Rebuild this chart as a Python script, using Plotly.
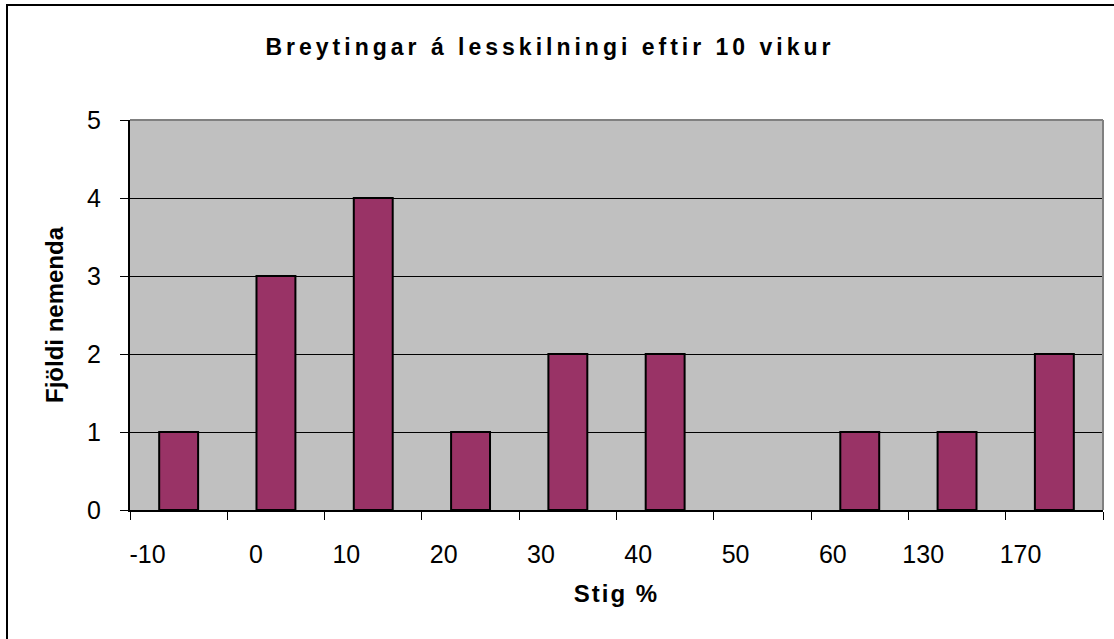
import plotly.graph_objects as go

categories = ["-10", "0", "10", "20", "30", "40", "50", "60", "130", "170"]
counts = [1, 3, 4, 1, 2, 2, 0, 1, 1, 2]
y_ticks = [0, 1, 2, 3, 4, 5]

title_text = "Breytingar á lesskilningi eftir 10 vikur"
x_title = "Stig %"
y_title = "Fjöldi nemenda"

positions = list(range(len(categories)))

fig = go.Figure()
fig.add_trace(go.Bar(
    x=positions, y=counts,
    marker=dict(color="#993366",
                line=dict(color="#000000", width=[2 if v > 0 else 0 for v in counts])),
    width=0.4,
))

font_family = "Liberation Sans, Arial, sans-serif"

fig.update_layout(
    width=1114, height=639,
    margin=dict(l=130, r=11, t=120, b=129),
    paper_bgcolor="#FFFFFF",
    plot_bgcolor="#C0C0C0",
    showlegend=False,
    font=dict(family=font_family, color="#000000"),
    title=dict(
        text=title_text,
        font=dict(size=23, family=font_family, color="#000000", weight="bold"),
        x=550 / 1114, xref="container", xanchor="center",
        y=1 - 47 / 639, yref="container", yanchor="middle",
    ),
    xaxis=dict(
        type="linear",
        tickvals=positions, ticktext=categories,
        ticks="",
        minor=dict(ticks="outside", ticklen=8, tickwidth=1, tickcolor="#000000",
                   tick0=-0.5, dtick=1, showgrid=False),
        ticklabelposition="outside left",
        ticklabelshift=-12,
        ticklabelstandoff=21,
        tickfont=dict(size=25),
        showline=True, linecolor="#000000", linewidth=2,
        showgrid=False, zeroline=False,
        title=dict(text=x_title, font=dict(size=24, weight="bold"), standoff=18),
        range=[-0.5, len(categories) - 0.5],
    ),
    yaxis=dict(
        range=[0, 5],
        tickvals=y_ticks,
        ticks="outside", ticklen=8, tickwidth=1, tickcolor="#000000",
        ticklabelstandoff=14,
        tickfont=dict(size=25),
        showline=True, linecolor="#000000", linewidth=2,
        showgrid=True, gridcolor="#000000", gridwidth=1,
        zeroline=False,
        title=dict(text=y_title, font=dict(size=24, weight="bold"), standoff=17),
    ),
    shapes=[
        dict(type="line", xref="paper", yref="paper", x0=0, x1=1, y0=1, y1=1,
             line=dict(color="#808080", width=2), layer="above"),
        dict(type="line", xref="paper", yref="paper", x0=1, x1=1, y0=0, y1=1,
             line=dict(color="#808080", width=2), layer="above"),
        dict(type="rect", xref="paper", yref="paper",
             x0=(7 - 130) / 973, x1=1.5, y0=-1, y1=(510 - 5) / 390,
             line=dict(color="#000000", width=2), layer="below"),
    ],
)

post = """
var s=document.createElement('style');
s.textContent='body{margin:0 !important} .gtitle{letter-spacing:4px} .xtitle{letter-spacing:2px}';
document.head.appendChild(s);
"""
fig.write_html("out.html", post_script=post, config={"displayModeBar": False})
